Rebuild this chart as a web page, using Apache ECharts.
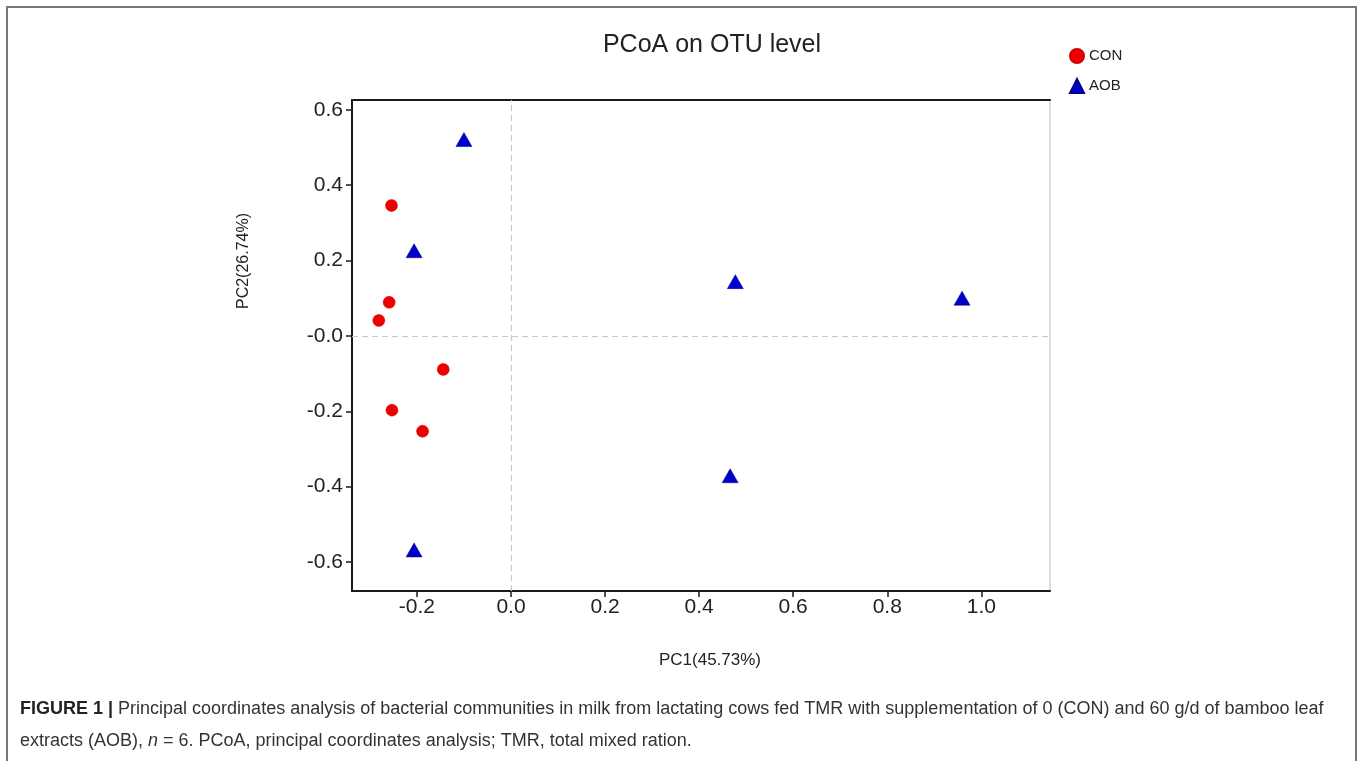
<!DOCTYPE html>
<html><head><meta charset="utf-8">
<script src="https://cdn.jsdelivr.net/npm/echarts@6/dist/echarts.min.js"></script>
<style>html,body{margin:0;padding:0;background:#fff}#c{width:1360px;height:761px}</style>
</head><body><div id="c"></div>
<script>
const conPC1 = [-0.254, -0.259, -0.281, -0.144, -0.253, -0.188];
const conPC2 = [0.346, 0.089, 0.041, -0.089, -0.197, -0.253];
const aobPC1 = [-0.100, -0.206, 0.477, 0.959, 0.466, -0.206];
const aobPC2 = [0.521, 0.226, 0.144, 0.100, -0.371, -0.568];
const xTicks = [-0.2, 0.0, 0.2, 0.4, 0.6, 0.8, 1.0];
const yTicks = [-0.6, -0.4, -0.2, 0.0, 0.2, 0.4, 0.6];

const font = 'Liberation Sans, Arial, sans-serif';
const chart = echarts.init(document.getElementById('c'));
const con = conPC1.map((x, i) => [x, conPC2[i]]);
const aob = aobPC1.map((x, i) => [x, aobPC2[i]]);

const X_MIN = -0.338, X_MAX = 1.146;

chart.setOption({
  animation: false,
  backgroundColor: '#fff',
  title: {
    text: 'PCoA on OTU level', left: 707, top: 28, textAlign: 'center',
    textStyle: { fontFamily: font, fontSize: 25, fontWeight: 'normal', color: '#222' }
  },
  legend: {
    orient: 'vertical', left: 1064, top: 43, itemGap: 14, itemWidth: 14, itemHeight: 14,
    textStyle: { fontFamily: font, fontSize: 15, color: '#222' },
    data: [{ name: 'CON', icon: 'circle' }, { name: 'AOB', icon: 'triangle' }]
  },
  grid: { left: 352, top: 100, right: 310, bottom: 170, show: true, borderColor: '#bbb', borderWidth: 1 },
  xAxis: [{
    type: 'value', min: X_MIN, max: X_MAX, interval: 0.2,
    axisLine: { show: true, onZero: false, lineStyle: { color: '#1a1a1a', width: 2 } },
    axisTick: { show: true, length: 6, lineStyle: { color: '#1a1a1a', width: 1.5 }, customValues: xTicks },
    axisLabel: { fontFamily: font, fontSize: 21, color: '#222', margin: 6, customValues: xTicks,
      formatter: v => v.toFixed(1) },
    splitLine: { show: false }
  }, {
    type: 'value', position: 'top', min: X_MIN, max: X_MAX,
    axisLine: { show: true, onZero: false, lineStyle: { color: '#1a1a1a', width: 2 } },
    axisTick: { show: false }, axisLabel: { show: false }, splitLine: { show: false }
  }],
  yAxis: {
    type: 'value', min: -0.677, max: 0.626, interval: 0.2,
    axisLine: { show: true, onZero: false, lineStyle: { color: '#1a1a1a', width: 2 } },
    axisTick: { show: true, length: 6, lineStyle: { color: '#1a1a1a', width: 1.5 }, customValues: yTicks },
    axisLabel: { fontFamily: font, fontSize: 21, color: '#222', margin: 9, customValues: yTicks,
      formatter: v => Math.abs(v) < 1e-9 ? '-0.0' : v.toFixed(1) },
    splitLine: { show: false }
  },
  series: [
    {
      name: 'CON', type: 'scatter', symbol: 'circle', symbolSize: 12, data: con,
      itemStyle: { color: '#ee0000', borderColor: '#cc0000', borderWidth: 0.5, opacity: 1 },
      markLine: {
        silent: true, symbol: 'none', label: { show: false },
        lineStyle: { color: '#c8c8c8', type: [6, 4], width: 1.2 },
        data: [{ xAxis: 0 }, { yAxis: 0 }]
      }
    },
    {
      name: 'AOB', type: 'scatter', symbol: 'triangle', symbolSize: [16, 14], data: aob,
      itemStyle: { color: '#0000cc', borderColor: '#000088', borderWidth: 0.5, opacity: 1 }
    }
  ],
  graphic: [
    { type: 'rect', shape: { x: 7, y: 7, width: 1349, height: 800 }, style: { fill: null, stroke: '#777', lineWidth: 2 }, silent: true },
    { type: 'text', x: 710, y: 660, style: { text: 'PC1(45.73%)', font: '17px ' + font, fill: '#222', textAlign: 'center', textVerticalAlign: 'middle' } },
    { type: 'text', x: 244, y: 261, rotation: Math.PI / 2, style: { text: 'PC2(26.74%)', font: '16px ' + font, fill: '#222', textAlign: 'center', textVerticalAlign: 'middle' } },
    { type: 'text', x: 20, y: 709, style: {
        text: '{b|FIGURE 1 |} Principal coordinates analysis of bacterial communities in milk from lactating cows fed TMR with supplementation of 0 (CON) and 60 g/d of bamboo leaf',
        rich: { b: { font: 'bold 18px ' + font, fill: '#222' } },
        font: '18px ' + font, fill: '#333', textVerticalAlign: 'middle' } },
    { type: 'text', x: 20, y: 741, style: {
        text: 'extracts (AOB), {i|n} = 6. PCoA, principal coordinates analysis; TMR, total mixed ration.',
        rich: { i: { font: 'italic 18px ' + font, fill: '#333' } },
        font: '18px ' + font, fill: '#333', textVerticalAlign: 'middle' } }
  ]
});
</script></body></html>
